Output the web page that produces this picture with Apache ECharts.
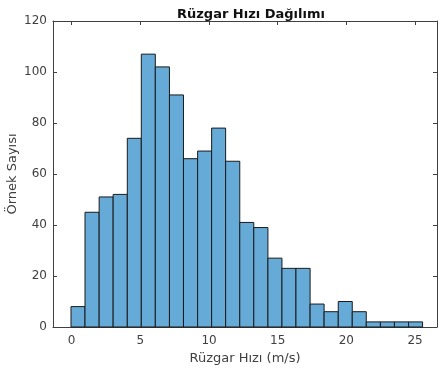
<!DOCTYPE html>
<html>
<head>
<meta charset="utf-8">
<script src="https://cdn.jsdelivr.net/npm/echarts@6/dist/echarts.min.js"></script>
<style>html,body{margin:0;padding:0;background:#fff;}#c{width:438px;height:369px;}</style>
</head>
<body>
<div id="c"></div>
<script>
// Bin edges (m/s) and counts
const binEdges = [-0.05, 0.97, 2.00, 3.02, 4.05, 5.07, 6.09, 7.12, 8.14, 9.17, 10.19, 11.21, 12.24, 13.26, 14.29, 15.31, 16.33, 17.36, 18.38, 19.41, 20.43, 21.45, 22.48, 23.50, 24.53, 25.55];
const counts = [8, 45, 51, 52, 74, 107, 102, 91, 66, 69, 78, 65, 41, 39, 27, 23, 23, 9, 6, 10, 6, 2, 2, 2, 2];
const xTicks = [0, 5, 10, 15, 20, 25];
const yTicks = [0, 20, 40, 60, 80, 100, 120];
const titleText = 'Rüzgar Hızı Dağılımı';
const xLabel = 'Rüzgar Hızı (m/s)';
const yLabel = 'Örnek Sayısı';

const data = counts.map((c, i) => [binEdges[i], binEdges[i + 1], c]);
const font = 'DejaVu Sans';
const axisCol = '#404040';
const xMin = -1.36, xMax = 26.6;

const chart = echarts.init(document.getElementById('c'), null, {renderer: 'canvas'});
const tickAxisX = (pos, show) => ({
  type: 'value', position: pos, min: xMin, max: xMax,
  axisLine: {show: true, onZero: false, lineStyle: {color: axisCol, width: 1}},
  axisTick: {show: true, inside: true, length: 4, lineStyle: {color: axisCol},
    customValues: xTicks},
  axisLabel: {show: show, color: '#404040', fontFamily: font, fontSize: 12, margin: 8,
    customValues: xTicks},
  splitLine: {show: false}
});
const tickAxisY = (pos, show) => ({
  type: 'value', position: pos, min: 0, max: 120, interval: 20,
  axisLine: {show: true, onZero: false, lineStyle: {color: axisCol, width: 1}},
  axisTick: {show: true, inside: true, length: 4, lineStyle: {color: axisCol}},
  axisLabel: {show: show, color: '#404040', fontFamily: font, fontSize: 12, margin: 6},
  splitLine: {show: false}
});

const xb = tickAxisX('bottom', true);
xb.name = xLabel; xb.nameLocation = 'middle'; xb.nameGap = 21;
xb.nameTextStyle = {color: '#404040', fontFamily: font, fontSize: 13};
const yl = tickAxisY('left', true);
yl.name = yLabel; yl.nameLocation = 'middle'; yl.nameGap = 34; yl.nameMoveOverlap = false;
yl.nameTextStyle = {color: '#404040', fontFamily: font, fontSize: 13};

chart.setOption({
  animation: false,
  backgroundColor: '#fff',
  title: {text: titleText, left: 246, top: 3, textAlign: 'center',
    textStyle: {fontFamily: font, fontSize: 13, fontWeight: 'bold', color: '#111'}},
  grid: {left: 53, right: 1, top: 21, bottom: 42, containLabel: false, outerBoundsMode: 'none'},
  xAxis: [xb, tickAxisX('top', false)],
  yAxis: [yl, tickAxisY('right', false)],
  series: [{
    type: 'custom',
    xAxisIndex: 0, yAxisIndex: 0,
    data: data,
    encode: {x: [0, 1], y: 2},
    renderItem: function (params, api) {
      const p0 = api.coord([api.value(0), api.value(2)]);
      const p1 = api.coord([api.value(1), 0]);
      return {
        type: 'rect',
        shape: {x: p0[0], y: p0[1], width: p1[0] - p0[0], height: p1[1] - p0[1]},
        style: {fill: '#66aad7', stroke: '#1a1a1a', lineWidth: 1}
      };
    }
  }]
});
</script>
</body>
</html>
